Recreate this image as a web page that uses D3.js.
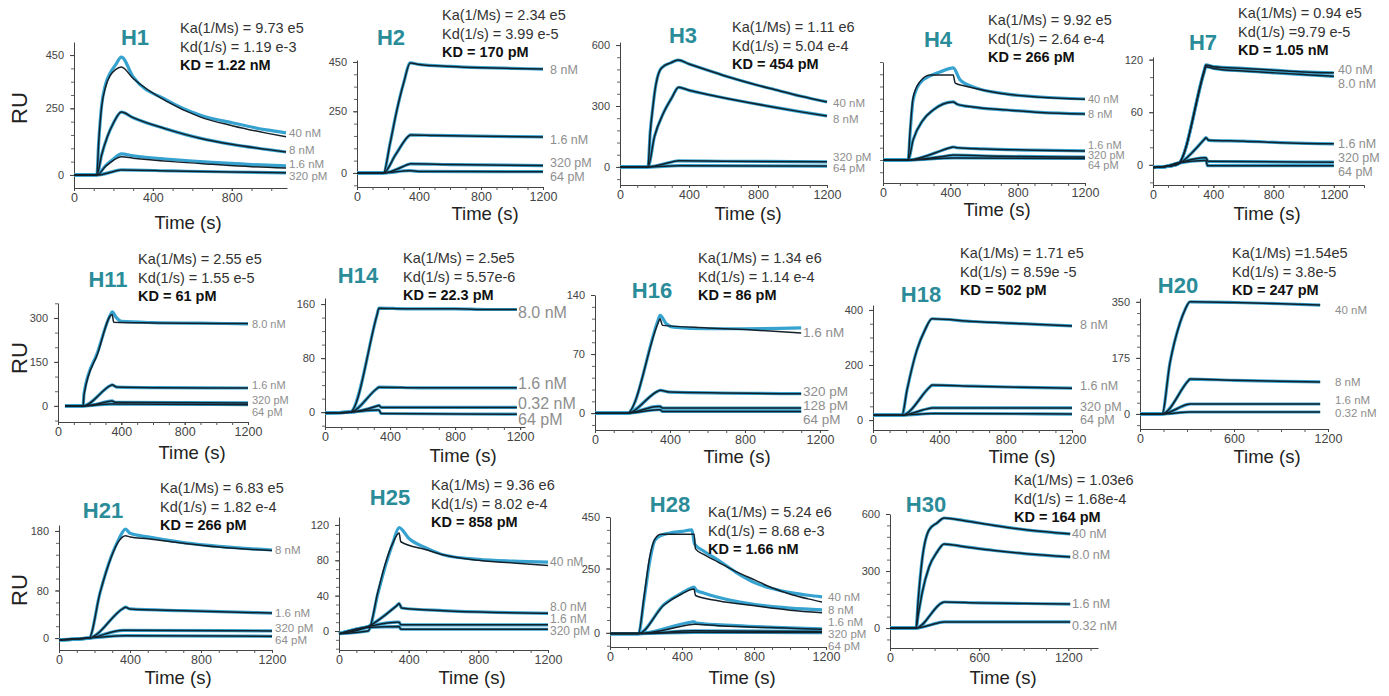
<!DOCTYPE html>
<meta charset="utf-8">
<head>
    <script src="https://d3js.org/d3.v7.min.js"></script>
    <style>
        body { margin: 0; background: white; }
        svg { font-family: "Liberation Sans", Arial, sans-serif; }
    </style>
</head>
<body>
<div id="chart"></div>

<script>
    // ---- data ----
    const panelNames = ["H1", "H2", "H3", "H4", "H7", "H11", "H14", "H16", "H18", "H20", "H21", "H25", "H28", "H30"];

    const kaValues = ["Ka(1/Ms) = 9.73 e5", "Ka(1/Ms) = 2.34 e5", "Ka(1/Ms) = 1.11 e6", "Ka(1/Ms) = 9.92 e5",
        "Ka(1/Ms) = 0.94 e5", "Ka(1/Ms) = 2.55 e5", "Ka(1/Ms) = 2.5e5", "Ka(1/Ms) = 1.34 e6", "Ka(1/Ms) = 1.71 e5",
        "Ka(1/Ms) =1.54e5", "Ka(1/Ms) = 6.83 e5", "Ka(1/Ms) = 9.36 e6", "Ka(1/Ms) = 5.24 e6", "Ka(1/Ms) = 1.03e6"];

    const kdValues = ["Kd(1/s) = 1.19 e-3", "Kd(1/s) = 3.99 e-5", "Kd(1/s) = 5.04 e-4", "Kd(1/s) = 2.64 e-4",
        "Kd(1/s) =9.79 e-5", "Kd(1/s) = 1.55 e-5", "Kd(1/s) = 5.57e-6", "Kd(1/s) = 1.14 e-4", "Kd(1/s) = 8.59e -5",
        "Kd(1/s) = 3.8e-5", "Kd(1/s) = 1.82 e-4", "Kd(1/s) = 8.02 e-4", "Kd(1/s) = 8.68 e-3", "Kd(1/s) = 1.68e-4"];

    const KDValues = ["KD = 1.22 nM", "KD = 170 pM", "KD = 454 pM", "KD = 266 pM", "KD = 1.05 nM", "KD = 61 pM",
        "KD = 22.3 pM", "KD = 86 pM", "KD = 502 pM", "KD = 247 pM", "KD = 266 pM", "KD = 858 pM", "KD = 1.66 nM", "KD = 164 pM"];

    const concLabels = [
        ["40 nM", "8 nM", "1.6 nM", "320 pM"],
        ["8 nM", "1.6 nM", "320 pM", "64 pM"],
        ["40 nM", "8 nM", "320 pM", "64 pM"],
        ["40 nM", "8 nM", "1.6 nM", "320 pM", "64 pM"],
        ["40 nM", "8.0 nM", "1.6 nM", "320 pM", "64 pM"],
        ["8.0 nM", "1.6 nM", "320 pM", "64 pM"],
        ["8.0 nM", "1.6 nM", "0.32 nM", "64 pM"],
        ["1.6 nM", "320 pM", "128 pM", "64 pM"],
        ["8 nM", "1.6 nM", "320 pM", "64 pM"],
        ["40 nM", "8 nM", "1.6 nM", "0.32 nM"],
        ["8 nM", "1.6 nM", "320 pM", "64 pM"],
        ["40 nM", "8.0 nM", "1.6 nM", "320 pM"],
        ["40 nM", "8 nM", "1.6 nM", "320 pM", "64 pM"],
        ["40 nM", "8.0 nM", "1.6 nM", "0.32 nM"]
    ];

    const xTickValues = [
        [0, 400, 800], [0, 400, 800, 1200], [0, 400, 800, 1200], [0, 400, 800, 1200], [0, 400, 800, 1200],
        [0, 400, 800, 1200], [0, 400, 800, 1200], [0, 400, 800, 1200], [0, 400, 800, 1200], [0, 600, 1200],
        [0, 400, 800, 1200], [0, 400, 800, 1200], [0, 400, 800, 1200], [0, 600, 1200]
    ];

    const yTickValues = [
        [0, 250, 450], [0, 250, 450], [0, 300, 600], [], [0, 60, 120],
        [0, 150, 300], [0, 80, 160], [0, 70, 140], [0, 200, 400], [0, 175, 350],
        [0, 80, 180], [0, 40, 80, 120], [0, 250, 450], [0, 300, 600]
    ];

    // measured sensorgrams: [time (s), RU]
    const h1Measured = [
        [[0, 0], [116, 0], [125, 120], [140, 260], [160, 340], [185, 385], [210, 412], [240, 442], [300, 368], [470, 281], [638, 225], [807, 195], [976, 169], [1075, 158]],
        [[0, 0], [116, 0], [140, 75], [170, 145], [200, 195], [240, 236], [300, 215], [470, 172], [638, 138], [807, 114], [976, 96], [1075, 86]],
        [[0, 0], [116, 0], [160, 35], [200, 60], [240, 79], [300, 72], [500, 58], [700, 47], [900, 39], [1075, 34]],
        [[0, 0], [116, 0], [230, 18], [240, 19], [500, 15], [800, 11], [1075, 8]]
    ];
    const h2Measured = [
        [[0, 0], [170, 0], [214, 122], [258, 257], [301, 365], [344, 446], [400, 440], [600, 432], [800, 427], [1000, 424], [1200, 421]],
        [[0, 0], [170, 0], [250, 75], [334, 150], [344, 154], [500, 152], [800, 149], [1200, 146]],
        [[0, 0], [170, 0], [334, 35], [344, 37], [600, 34], [1200, 30]],
        [[0, 0], [170, 0], [334, 9], [344, 9], [400, 6], [1200, 5]]
    ];
    const h3Measured = [
        [[0, 0], [162, 0], [175, 170], [190, 290], [203, 379], [232, 477], [260, 500], [290, 511], [337, 526], [400, 507], [500, 478], [620, 445], [750, 413], [900, 380], [1050, 348], [1200, 320]],
        [[0, 0], [162, 0], [200, 150], [250, 262], [300, 340], [340, 392], [400, 377], [500, 358], [620, 337], [750, 316], [900, 293], [1050, 271], [1200, 251]],
        [[0, 0], [162, 0], [330, 29], [340, 30], [600, 28], [1200, 25]],
        [[0, 0], [162, 0], [340, 6], [1200, 4]]
    ];
    const h4Measured = [
        [[0, 0], [149, 0], [161, 110], [179, 245], [220, 314], [280, 343], [339, 359], [417, 376], [458, 327], [536, 298], [738, 269], [935, 257], [1200, 249]],
        [[0, 0], [149, 0], [179, 82], [238, 163], [298, 204], [417, 237], [440, 228], [536, 216], [738, 204], [935, 194], [1200, 188]],
        [[0, 0], [149, 0], [405, 51], [417, 53], [440, 50], [600, 45], [900, 40], [1200, 37]],
        [[0, 0], [149, 0], [405, 19], [417, 20], [700, 15], [1200, 12]],
        [[0, 0], [149, 0], [417, 8], [1200, 6]]
    ];
    const h7Measured = [
        [[0, -3], [80, -2], [166, 1], [340, 108], [351, 114], [400, 112], [600, 110], [800, 108], [1000, 106], [1200, 105]],
        [[0, -3], [80, -2], [166, 1], [340, 106], [351, 112], [400, 110], [600, 107], [800, 105], [1000, 103], [1200, 101]],
        [[0, -3], [80, -2], [166, 1], [340, 29], [351, 31], [370, 28], [600, 27], [900, 25], [1200, 24]],
        [[0, -3], [80, -2], [166, 2], [340, 8], [351, 8], [365, 4], [1200, 3]],
        [[0, -3], [80, -2], [166, 2], [340, 5], [351, 5], [362, -1], [1200, -1]]
    ];
    const h11Measured = [
        [[44, 0], [158, 0], [165, 45], [250, 183], [330, 310], [342, 321], [370, 300], [400, 288], [600, 284], [900, 282], [1200, 280]],
        [[44, 0], [158, 0], [330, 69], [342, 72], [370, 64], [600, 62], [1200, 61]],
        [[44, 0], [158, 0], [330, 16], [342, 17], [360, 12], [1200, 10]],
        [[44, 0], [158, 0], [330, 6], [342, 6], [1200, 4]]
    ];
    const h14Measured = [
        [[0, -1], [154, 0], [320, 144], [332, 154], [500, 153], [800, 153], [1000, 152], [1180, 152]],
        [[0, -1], [154, 0], [320, 35], [332, 37], [600, 36], [1180, 36]],
        [[0, -1], [154, 0], [320, 9], [332, 10], [345, 7], [1180, 7]],
        [[0, -1], [154, 0], [320, 3], [332, 3], [345, -2], [1180, -3]]
    ];
    const h16Measured = [
        [[0, 0], [171, 0], [335, 109], [347, 116], [380, 106], [420, 102], [600, 100], [800, 100], [1100, 101]],
        [[0, 0], [171, 0], [335, 26], [347, 27], [400, 25], [1100, 23]],
        [[0, 0], [171, 0], [335, 8], [347, 8], [360, 6], [1100, 6]],
        [[0, 0], [171, 0], [335, 4], [347, 4], [360, 2], [1100, 2]]
    ];
    const h18Measured = [
        [[0, 18], [175, 18], [205, 109], [265, 255], [313, 327], [356, 368], [600, 358], [900, 350], [1200, 342]],
        [[0, 18], [175, 18], [344, 121], [356, 127], [600, 123], [900, 119], [1200, 116]],
        [[0, 18], [175, 18], [344, 43], [356, 44], [1200, 44]],
        [[0, 18], [175, 18], [356, 24], [1200, 22]]
    ];
    const h20Measured = [
        [[0, 0], [140, 0], [191, 159], [255, 284], [287, 325], [319, 350], [600, 348], [900, 344], [1150, 340]],
        [[0, 0], [140, 0], [307, 103], [319, 109], [600, 105], [900, 102], [1150, 100]],
        [[0, 0], [140, 0], [307, 30], [319, 31], [1150, 31]],
        [[0, 0], [140, 0], [319, 6], [1150, 6]]
    ];
    const h21Measured = [
        [[0, -3], [169, 0], [231, 76], [293, 136], [335, 165], [375, 183], [400, 176], [500, 170], [710, 160], [900, 154], [1200, 148]],
        [[0, -3], [169, 0], [362, 50], [375, 52], [400, 49], [700, 46], [1200, 42]],
        [[0, -3], [169, 0], [362, 13], [375, 13], [1200, 12]],
        [[0, -3], [169, 0], [375, 4], [1200, 3]]
    ];
    const h25Measured = [
        [[0, -3], [167, 0], [224, 43], [264, 72], [310, 100], [345, 117], [400, 105], [500, 94], [603, 86], [800, 81], [1000, 79], [1200, 78]],
        [[0, -3], [167, 5], [333, 29], [345, 31], [360, 26], [600, 23], [900, 21], [1200, 20]],
        [[0, -3], [167, 5], [333, 10], [345, 10], [355, 7], [1200, 7]],
        [[0, -3], [167, 4], [345, 5], [355, 2], [1200, 2]]
    ];
    const h28Measured = [
        [[0, -3], [158, -3], [189, 128], [222, 283], [250, 360], [290, 380], [333, 388], [400, 394], [455, 400], [470, 345], [520, 318], [600, 283], [700, 235], [806, 194], [900, 172], [1011, 155], [1100, 146], [1178, 140]],
        [[0, -3], [158, -3], [300, 110], [400, 155], [455, 175], [467, 178], [480, 165], [520, 155], [600, 138], [700, 122], [806, 110], [1000, 96], [1178, 89]],
        [[0, -3], [158, -3], [455, 42], [467, 43], [480, 38], [700, 28], [1000, 19], [1178, 15]],
        [[0, -3], [158, -3], [467, 8], [1178, 5]],
        [[0, -3], [158, -3], [467, 2], [1178, 1]]
    ];
    const h30Measured = [
        [[0, 0], [175, 0], [190, 150], [216, 358], [263, 516], [317, 553], [364, 579], [500, 565], [700, 540], [900, 518], [1213, 495]],
        [[0, 0], [175, 0], [190, 70], [216, 184], [263, 321], [317, 400], [364, 442], [500, 428], [700, 408], [900, 392], [1213, 374]],
        [[0, 0], [175, 0], [350, 133], [364, 137], [600, 132], [900, 129], [1213, 126]],
        [[0, 0], [175, 0], [350, 31], [364, 32], [1213, 32]]
    ];

    // fitted curves (null = fit lies on the measured trace)
    const h1Fit = [
        [[0, 0], [116, 0], [125, 120], [140, 255], [160, 330], [185, 375], [210, 395], [240, 405], [300, 362], [470, 276], [638, 218], [807, 184], [976, 157], [1075, 143]],
        null,
        [[0, 0], [116, 0], [160, 32], [200, 55], [240, 68], [300, 63], [500, 50], [700, 40], [900, 31], [1075, 26]],
        null
    ];
    const h4Fit = [
        [[0, 0], [149, 0], [161, 120], [179, 255], [220, 320], [280, 347], [417, 347], [429, 314], [480, 303], [536, 294], [738, 268], [935, 256], [1200, 248]],
        null, null, null, null
    ];
    const h11Fit = [
        [[44, 0], [158, 0], [165, 40], [250, 178], [342, 312], [352, 285], [600, 283], [1200, 281]],
        null, null, null
    ];
    const h16Fit = [
        [[0, 0], [171, 0], [335, 106], [347, 112], [360, 104], [600, 101], [800, 99], [1100, 95]],
        null, null, null
    ];
    const h21Fit = [
        [[0, -3], [169, 0], [231, 76], [293, 135], [335, 162], [375, 172], [400, 170], [500, 167], [710, 159], [900, 153], [1200, 147]],
        null, null, null
    ];
    const h25Fit = [
        [[0, -3], [167, 0], [224, 45], [264, 75], [310, 100], [345, 111], [355, 101], [500, 92], [603, 86], [800, 80], [1000, 77], [1200, 74]],
        null, null, null
    ];
    const h28Fit = [
        [[0, -3], [158, -3], [189, 140], [222, 300], [250, 365], [283, 383], [467, 383], [475, 326], [520, 305], [600, 275], [700, 238], [806, 205], [900, 175], [1011, 148], [1100, 132], [1178, 120]],
        [[0, -3], [158, -3], [300, 108], [400, 152], [467, 170], [475, 145], [600, 125], [806, 105], [1000, 88], [1178, 78]],
        [[0, -3], [158, -3], [455, 32], [467, 33], [600, 28], [1000, 18], [1178, 14]],
        null, null
    ];

    const measured = [h1Measured, h2Measured, h3Measured, h4Measured, h7Measured, h11Measured, h14Measured,
        h16Measured, h18Measured, h20Measured, h21Measured, h25Measured, h28Measured, h30Measured];
    const fits = [h1Fit, null, null, h4Fit, null, h11Fit, null, h16Fit, null, null, h21Fit, h25Fit, h28Fit, null];

    // ---- layout (pixel placement of each small panel) ----
    const layout = [
        { x0: 74, x1: 287, xMax: 1080, yLo: -49, yHi: 499, top: 42, bottom: 188, tx: 135, ty: 45, px: 180, py: 33, lx: 289, ly: [133, 150, 164, 176], ls: 11.5, timeX: 188, timeY: 229, xMinor: 100, yMinor: 50 },
        { x0: 357, x1: 543, xMax: 1200, yLo: -57, yHi: 458, top: 60, bottom: 187, tx: 391, ty: 45, px: 442, py: 20, lx: 550, ly: [70, 140, 163, 177], ls: 12.5, timeX: 485, timeY: 220, xMinor: 100, yMinor: 50 },
        { x0: 620, x1: 827, xMax: 1200, yLo: -89, yHi: 615, top: 42, bottom: 185, tx: 683, ty: 43, px: 732, py: 32, lx: 833, ly: [103, 119, 157, 168], ls: 11.5, timeX: 748, timeY: 220, xMinor: 100, yMinor: 60 },
        { x0: 883, x1: 1085, xMax: 1200, yLo: -94, yHi: 400, top: 62, bottom: 183, tx: 938, ty: 47, px: 988, py: 25, lx: 1088, ly: [99, 114, 145, 155, 165], ls: 11, timeX: 997, timeY: 216, xMinor: 100, yMinor: 50 },
        { x0: 1153, x1: 1364, xMax: 1400, yLo: -23, yHi: 123, top: 57, bottom: 185, tx: 1203, ty: 50, px: 1238, py: 18, lx: 1338, ly: [70, 84, 144, 158, 172], ls: 12.5, timeX: 1267, timeY: 220, xMinor: 100, yMinor: 20 },
        { x0: 58, x1: 248, xMax: 1200, yLo: -55, yHi: 351, top: 303, bottom: 422, tx: 108, ty: 287, px: 138, py: 264, lx: 252, ly: [324, 385, 400, 412], ls: 11, timeX: 192, timeY: 459, xMinor: 100, yMinor: 50 },
        { x0: 325, x1: 525, xMax: 1230, yLo: -22, yHi: 169, top: 298, bottom: 427, tx: 358, ty: 283, px: 403, py: 263, lx: 518, ly: [312, 383, 403, 419], ls: 16, timeX: 463, timeY: 462, xMinor: 100, yMinor: 20 },
        { x0: 595, x1: 828, xMax: 1243, yLo: -20, yHi: 140, top: 295, bottom: 430, tx: 652, ty: 298, px: 698, py: 263, lx: 803, ly: [332, 391, 405, 419], ls: 13.5, timeX: 737, timeY: 463, xMinor: 100, yMinor: 14 },
        { x0: 873, x1: 1072, xMax: 1200, yLo: -36, yHi: 418, top: 305, bottom: 430, tx: 921, ty: 302, px: 960, py: 258, lx: 1080, ly: [325, 386, 407, 420], ls: 12.5, timeX: 1022, timeY: 463, xMinor: 100, yMinor: 50 },
        { x0: 1140, x1: 1328, xMax: 1200, yLo: -47, yHi: 362, top: 298, bottom: 429, tx: 1178, ty: 293, px: 1232, py: 258, lx: 1335, ly: [310, 382, 400, 413], ls: 11.5, timeX: 1267, timeY: 463, xMinor: 150, yMinor: 35 },
        { x0: 59, x1: 272, xMax: 1200, yLo: -20, yHi: 190, top: 525, bottom: 650, tx: 103, ty: 518, px: 160, py: 493, lx: 275, ly: [550, 613, 628, 640], ls: 11.5, timeX: 178, timeY: 684, xMinor: 100, yMinor: 20 },
        { x0: 339, x1: 548, xMax: 1200, yLo: -21.5, yHi: 129, top: 517, bottom: 650, tx: 390, ty: 505, px: 431, py: 490, lx: 550, ly: [562, 607, 619, 631], ls: 12, timeX: 472, timeY: 684, xMinor: 100, yMinor: 10 },
        { x0: 610, x1: 826, xMax: 1200, yLo: -55, yHi: 450, top: 517, bottom: 647, tx: 670, ty: 512, px: 708, py: 517, lx: 828, ly: [597, 610, 622, 634, 646], ls: 11.5, timeX: 742, timeY: 684, xMinor: 100, yMinor: 50 },
        { x0: 890, x1: 1098, xMax: 1400, yLo: -105, yHi: 600, top: 514, bottom: 648, tx: 926, ty: 512, px: 1014, py: 485, lx: 1072, ly: [534, 555, 604, 626], ls: 12.5, timeX: 1003, timeY: 684, xMinor: 150, yMinor: 60 }
    ];

    const ruLabelY = [108, 358, 590];

    const svg = d3.select("#chart").append("svg")
        .attr("width", 1389)
        .attr("height", 696)
        .style("background-color", "white");

    // RU labels on the left
    svg.selectAll(".ru")
        .data(ruLabelY)
        .enter()
        .append("text")
        .attr("class", "ru")
        .attr("transform", d => `translate(27, ${d}) rotate(-90)`)
        .attr("text-anchor", "middle")
        .attr("font-size", 22)
        .attr("fill", "#222")
        .text("RU");

    panelNames.forEach((name, i) => {
        const L = layout[i];
        const g = svg.append("g");

        const x = d3.scaleLinear().domain([0, L.xMax]).range([L.x0, L.x1]);
        const y = d3.scaleLinear().domain([L.yLo, L.yHi]).range([L.bottom, L.top]);

        // minor ticks
        const xMinorTicks = d3.range(0, L.xMax + 1, L.xMinor);
        const yMinorTicks = d3.range(0, L.yHi + 0.1, L.yMinor).concat(d3.range(-L.yMinor, L.yLo, -L.yMinor));

        g.append("g")
            .attr("transform", `translate(0, ${L.bottom})`)
            .call(d3.axisBottom(x).tickValues(xMinorTicks).tickSize(3).tickSizeOuter(0).tickFormat(""))
            .call(a => a.select(".domain").attr("stroke", "#444"))
            .call(a => a.selectAll(".tick line").attr("stroke", "#555"));

        g.append("g")
            .attr("transform", `translate(0, ${L.bottom})`)
            .call(d3.axisBottom(x).tickValues(xTickValues[i]).tickSize(3).tickPadding(2).tickSizeOuter(0).tickFormat(d3.format("d")))
            .call(a => a.select(".domain").remove())
            .call(a => a.selectAll(".tick line").attr("stroke", "#444"))
            .call(a => a.selectAll("text").attr("font-size", 12.5).attr("fill", "#444")
                .attr("font-family", "'Liberation Sans', Arial, sans-serif"));

        g.append("g")
            .attr("transform", `translate(${L.x0}, 0)`)
            .call(d3.axisLeft(y).tickValues(yMinorTicks).tickSize(3).tickSizeOuter(0).tickFormat(""))
            .call(a => a.select(".domain").attr("stroke", "#444"))
            .call(a => a.selectAll(".tick line").attr("stroke", "#666"));

        g.append("g")
            .attr("transform", `translate(${L.x0}, 0)`)
            .call(d3.axisLeft(y).tickValues(yTickValues[i]).tickSize(4).tickPadding(6).tickSizeOuter(0).tickFormat(d3.format("d")))
            .call(a => a.select(".domain").remove())
            .call(a => a.selectAll(".tick line").attr("stroke", "#444"))
            .call(a => a.selectAll("text").attr("font-size", 11).attr("fill", "#444")
                .attr("font-family", "'Liberation Sans', Arial, sans-serif"));

        const line = d3.line()
            .x(d => x(d[0]))
            .y(d => y(d[1]))
            .curve(d3.curveMonotoneX);

        // measured traces (blue)
        g.selectAll(".meas")
            .data(measured[i])
            .enter()
            .append("path")
            .attr("class", "meas")
            .attr("d", line)
            .attr("fill", "none")
            .attr("stroke", "#35a2cf")
            .attr("stroke-width", 3.2)
            .attr("stroke-linejoin", "round");

        // fitted curves (black)
        const fitSet = measured[i].map((m, k) => (fits[i] && fits[i][k]) ? fits[i][k] : m);
        g.selectAll(".fit")
            .data(fitSet)
            .enter()
            .append("path")
            .attr("class", "fit")
            .attr("d", line)
            .attr("fill", "none")
            .attr("stroke", "#14202a")
            .attr("stroke-width", 1.5)
            .attr("stroke-linejoin", "round");

        // concentration labels
        g.selectAll(".conc")
            .data(concLabels[i])
            .enter()
            .append("text")
            .attr("class", "conc")
            .attr("x", L.lx)
            .attr("y", (d, k) => L.ly[k])
            .attr("dy", "0.35em")
            .attr("font-size", L.ls)
            .attr("fill", "#8e8e8e")
            .text(d => d);

        // title
        g.append("text")
            .attr("x", L.tx)
            .attr("y", L.ty)
            .attr("text-anchor", "middle")
            .attr("font-size", 22)
            .attr("font-weight", "bold")
            .attr("fill", "#2b8c99")
            .text(name);

        // kinetic constants
        g.append("text")
            .attr("x", L.px).attr("y", L.py)
            .attr("font-size", 14.5).attr("fill", "#333")
            .text(kaValues[i]);
        g.append("text")
            .attr("x", L.px).attr("y", L.py + 18.5)
            .attr("font-size", 14.5).attr("fill", "#333")
            .text(kdValues[i]);
        g.append("text")
            .attr("x", L.px).attr("y", L.py + 37)
            .attr("font-size", 14.5).attr("font-weight", "bold").attr("fill", "#111")
            .text(KDValues[i]);

        // x axis title
        g.append("text")
            .attr("x", L.timeX)
            .attr("y", L.timeY)
            .attr("text-anchor", "middle")
            .attr("font-size", 18.5)
            .attr("fill", "#222")
            .text("Time (s)");
    });
</script>
</body>
